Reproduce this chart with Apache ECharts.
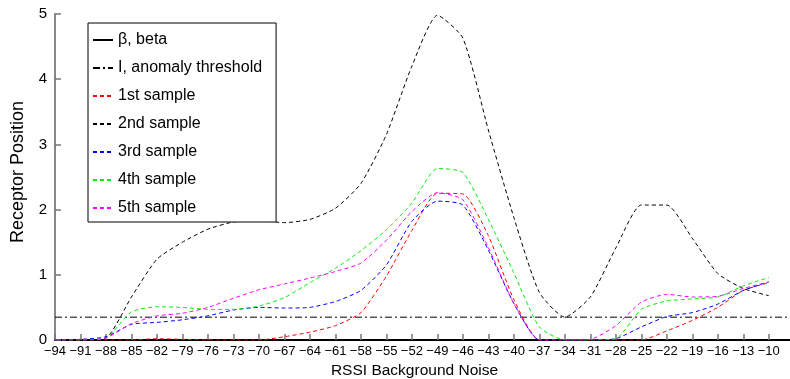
<!DOCTYPE html>
<html>
<head>
<meta charset="utf-8">
<script src="https://cdn.jsdelivr.net/npm/echarts@6/dist/echarts.min.js"></script>
<style>
  html, body { margin: 0; padding: 0; background: #fff; }
  #main { width: 790px; height: 379px; }
</style>
</head>
<body>
<div id="main"></div>
<script>
// x 轴刻度 (RSSI)
var xTicks = [-94, -91, -88, -85, -82, -79, -76, -73, -70, -67, -64, -61, -58, -55, -52,
              -49, -46, -43, -40, -37, -34, -31, -28, -25, -22, -19, -16, -13, -10];
var yTicks = [0, 1, 2, 3, 4, 5];

// 各样本数据 (与 xTicks 对应)
var sample1 = [0, 0, 0, 0, 0.02, 0.01, 0, 0, 0, 0.05, 0.12, 0.22, 0.42, 0.98, 1.68,
               2.25, 2.24, 1.6, 0.62, 0, 0, 0, 0, 0, 0.14, 0.3, 0.5, 0.76, 0.88];
var sample2 = [0, 0, 0.03, 0.66, 1.24, 1.5, 1.7, 1.81, 1.83, 1.8, 1.85, 2.02, 2.4, 3.15, 4.2,
               4.98, 4.63, 3.22, 1.88, 0.73, 0.35, 0.66, 1.41, 2.07, 2.07, 1.56, 1.02, 0.79, 0.68];
var sample3 = [0, 0.01, 0.05, 0.24, 0.27, 0.31, 0.37, 0.46, 0.5, 0.49, 0.5, 0.59, 0.76, 1.15, 1.82,
               2.13, 2.07, 1.38, 0.56, 0, 0, 0, 0.02, 0.2, 0.36, 0.42, 0.55, 0.76, 0.89];
var sample4 = [0, 0, 0.03, 0.43, 0.51, 0.5, 0.47, 0.47, 0.52, 0.65, 0.88, 1.1, 1.37, 1.69, 2.1,
               2.63, 2.57, 1.85, 1.03, 0.2, 0, 0, 0.02, 0.47, 0.6, 0.63, 0.66, 0.83, 0.96];
var sample5 = [0, 0, 0.03, 0.25, 0.37, 0.41, 0.5, 0.64, 0.77, 0.86, 0.95, 1.05, 1.18, 1.53, 1.97,
               2.26, 2.15, 1.42, 0.56, 0, 0, 0.01, 0.22, 0.58, 0.7, 0.66, 0.67, 0.79, 0.89];
var beta = [];          // 图中未绘出, 仅图例
var threshold = 0.35;   // 异常阈值

var names = ['\u03b2, beta', 'I, anomaly threshold', '1st sample', '2nd sample',
             '3rd sample', '4th sample', '5th sample'];

var xMin = -94, xMax = -7.5;
var font = "'Liberation Sans', Arial, Helvetica, sans-serif";

function pairs(ys) {
  return ys.map(function (y, i) { return [xTicks[i], y]; });
}
function minus(v) { return String(v).replace('-', '\u2212'); }

function dashed(name, color, ys) {
  return {
    name: name,
    type: 'line',
    symbol: 'none',
    smooth: 0.2,
    lineStyle: { color: color, width: 1, type: [4, 3] },
    itemStyle: { color: color },
    data: pairs(ys)
  };
}

var myChart = echarts.init(document.getElementById('main'));
var option;

option = {
  animation: false,
  textStyle: { fontFamily: font },
  grid: { left: 55, right: 0, top: 14, bottom: 39, outerBoundsMode: 'none' },
  legend: {
    orient: 'vertical',
    left: 88,
    top: 23,
    data: names,
    itemWidth: 20,
    itemHeight: 14,
    itemGap: 12,
    padding: [9, 14, 6, 4],
    borderColor: '#000',
    borderWidth: 1,
    backgroundColor: '#fff',
    itemStyle: { opacity: 0 },
    textStyle: { fontFamily: font, fontSize: 16, color: '#000' }
  },
  xAxis: {
    type: 'value',
    min: xMin,
    max: xMax,
    name: 'RSSI Background Noise',
    nameLocation: 'middle',
    nameGap: 23,
    nameTextStyle: { fontSize: 15.5, color: '#000', padding: [0, 16, 0, 0] },
    splitLine: { show: false },
    axisLine: { lineStyle: { color: '#000', width: 2 } },
    axisTick: { inside: true, length: 6, customValues: xTicks, lineStyle: { color: '#777', width: 1.5 } },
    axisLabel: { customValues: xTicks, color: '#000', fontSize: 13, margin: 5, formatter: minus }
  },
  yAxis: {
    type: 'value',
    min: 0,
    max: 5,
    interval: 1,
    name: 'Receptor Position',
    nameLocation: 'middle',
    nameGap: 28,
    nameTextStyle: { fontSize: 18, color: '#000', padding: [0, 0, 0, 10] },
    splitLine: { show: false },
    axisLine: { show: true, lineStyle: { color: '#888', width: 2 } },
    axisTick: { show: true, inside: true, length: 6, lineStyle: { color: '#777', width: 1.5 } },
    axisLabel: { color: '#000', fontSize: 15, margin: 8, formatter: function (v) {
      return yTicks.indexOf(v) >= 0 ? String(v) : '';
    } }
  },
  series: [
    {
      name: names[0],
      type: 'line',
      symbol: 'none',
      lineStyle: { color: '#000', width: 1 },
      itemStyle: { color: '#000' },
      data: beta
    },
    {
      name: names[1],
      type: 'line',
      symbol: 'none',
      lineStyle: { color: '#000', width: 1, type: [7, 3, 2, 3] },
      itemStyle: { color: '#000' },
      data: [[xMin, threshold], [xMax, threshold]]
    },
    dashed(names[2], '#ff0000', sample1),
    dashed(names[3], '#000000', sample2),
    dashed(names[4], '#0000ff', sample3),
    dashed(names[5], '#00ee00', sample4),
    dashed(names[6], '#ff00ff', sample5)
  ]
};

option && myChart.setOption(option);
</script>
</body>
</html>
